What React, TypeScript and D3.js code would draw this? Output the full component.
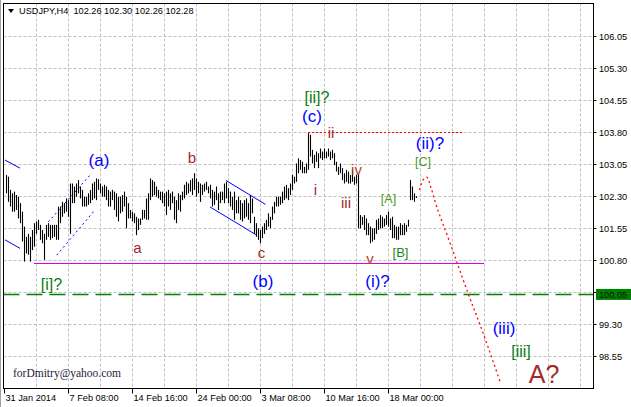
import React from 'react';
import * as d3 from 'd3';

// ---- data ----
const highs = [
  102.80, 102.76, 102.45, 102.37, 102.41, 102.33, 102.29, 102.14, 101.94, 101.59,
  101.35, 101.42, 101.35, 101.51, 101.67, 101.71, 101.75, 101.63, 101.51, 101.42,
  101.63, 101.67, 101.63, 101.63, 101.63, 101.63, 102.06, 102.06, 102.17, 102.14,
  102.25, 102.21, 102.60, 102.60, 102.53, 102.60, 102.68, 102.53, 102.45, 102.29,
  102.29, 102.37, 102.45, 102.60, 102.64, 102.72, 102.70, 102.60, 102.53, 102.57,
  102.53, 102.45, 102.41, 102.45, 102.41, 102.37, 102.29, 102.29, 102.33, 102.41,
  102.29, 102.14, 101.98, 101.94, 101.90, 101.82, 101.78, 101.78, 101.98, 101.98,
  102.25, 102.37, 102.72, 102.68, 102.64, 102.53, 102.45,
  102.41, 102.41, 102.37, 102.41, 102.45, 102.37, 102.41, 102.29, 102.21, 102.37,
  102.33, 102.41, 102.57, 102.64, 102.60, 102.68, 102.72, 102.84, 102.72, 102.64,
  102.60, 102.57, 102.60, 102.64, 102.53,
  102.57, 102.45, 102.41, 102.53, 102.37, 102.41, 102.41, 102.60, 102.64, 102.49,
  102.41, 102.29, 102.41, 102.21, 102.29, 102.21, 102.14, 102.21, 102.25, 102.14,
  102.33, 102.25, 101.82, 101.67, 101.55, 101.51, 101.59, 101.67, 101.75, 101.90,
  101.82, 102.06, 102.17, 102.29, 102.29, 102.29, 102.41, 102.53, 102.57, 102.49,
  102.60, 102.80, 102.76, 103.07, 103.19, 103.15, 103.11, 102.99, 103.07, 103.78,
  103.74, 103.39, 103.27, 103.35, 103.31, 103.42, 103.35, 103.42, 103.35, 103.42,
  103.35, 103.39, 103.31, 103.11, 102.99, 103.07, 102.96, 102.84, 102.92, 102.88,
  102.80, 102.92, 102.76, 102.80, 102.80, 101.86, 101.82, 101.86, 101.78, 101.67,
  101.59, 101.55, 101.55, 101.75, 101.78, 101.86, 101.82, 101.78, 101.86, 101.94,
  101.78, 101.82, 101.63, 101.59, 101.59, 101.67, 101.63, 101.67, 101.63, 101.75,
  102.68, 102.53, 102.37, 102.30,
];
const lows = [
  102.37, 102.17, 102.06, 101.94, 101.94, 101.98, 101.78, 101.67, 101.24, 100.77,
  100.96, 100.93, 100.77, 101.04, 101.12, 101.42, 101.51, 101.28, 101.20, 100.81,
  101.28, 101.35, 101.28, 101.32, 101.35, 101.28, 101.28, 101.67, 101.82, 101.90,
  101.94, 101.82, 101.42, 102.14, 102.14, 102.29, 102.37, 102.25, 102.06, 102.06,
  102.06, 102.10, 102.14, 102.21, 102.25, 102.21, 102.45, 102.37, 102.29, 102.29,
  102.21, 102.06, 102.06, 102.21, 101.98, 101.82, 101.71, 101.90, 101.94, 102.06,
  101.55, 101.78, 101.78, 101.71, 101.67, 101.39, 101.51, 101.63, 101.75, 101.78,
  101.75, 101.75, 102.21, 102.29, 102.33, 102.29, 102.25,
  102.21, 102.14, 102.06, 101.86, 102.06, 101.98, 102.14, 101.75, 101.67, 101.98,
  101.94, 102.21, 102.25, 102.33, 102.37, 102.41, 102.33, 102.45, 102.29, 102.37,
  102.17, 102.33, 102.41, 102.45, 102.37,
  102.25, 102.06, 102.10, 102.21, 101.98, 102.14, 102.21, 102.14, 102.25, 102.14,
  102.06, 101.98, 101.75, 101.90, 101.90, 101.75, 101.71, 101.78, 101.82, 101.75,
  101.67, 101.90, 101.42, 101.35, 101.28, 101.20, 101.32, 101.42, 101.51, 101.59,
  101.55, 101.75, 101.90, 102.06, 102.06, 102.10, 102.14, 102.21, 102.25, 102.21,
  102.33, 102.45, 102.60, 102.64, 102.84, 102.92, 102.84, 102.84, 102.84, 102.92,
  103.23, 103.07, 102.96, 103.11, 102.96, 103.19, 103.15, 103.19, 103.19, 103.23,
  103.15, 103.19, 103.03, 102.88, 102.80, 102.84, 102.68, 102.60, 102.64, 102.60,
  102.60, 102.64, 102.57, 102.60, 101.55, 101.55, 101.63, 101.51, 101.39, 101.39,
  101.20, 101.24, 101.28, 101.42, 101.51, 101.55, 101.55, 101.59, 101.63, 101.59,
  101.51, 101.32, 101.32, 101.28, 101.28, 101.39, 101.39, 101.39, 101.47, 101.59,
  102.21, 102.21, 102.17, 102.26,
];

const priceTicks = [106.05, 105.30, 104.55, 103.80, 103.05, 102.30, 101.55, 100.80, 100.05, 99.30, 98.55];
const dateLabels = ['31 Jan 2014', '7 Feb 08:00', '14 Feb 16:00', '24 Feb 00:00', '3 Mar 08:00', '10 Mar 16:00', '18 Mar 00:00'];
const dateLabelBars = [-1, 31, 63, 95, 127, 159, 191];
const headerText = 'USDJPY,H4  102.26 102.30 102.26 102.28';
const signature = 'forDmitry@yahoo.com';

const currentLevel = 100.0;
const currentLevelText = '100.05';
const supportLevel = 100.73;
const supportFrom = 14;
const supportTo = 239;
const resistanceLevel = 103.8;
const resistanceFrom = 151;
const resistanceTo = 228;

// trend / channel lines: [bar, price] pairs
const solidLines: [number, number][][] = [
  [[-0.5, 103.15], [7, 102.96]],
  [[-0.5, 101.28], [7, 101.08]],
  [[110, 102.67], [129.75, 102.11]],
  [[102, 102.05], [125.35, 101.39]],
];
const dottedLines: [number, number][][] = [
  [[21.15, 101.7], [42.85, 102.84]],
  [[25.35, 100.92], [44.5, 101.98]],
];
const projection: [number, number][] = [
  [206.7, 102.45], [208.5, 102.68], [210.3, 102.75], [212.5, 102.5], [215.3, 102.06],
  [222, 101.21], [231, 100.03], [238.5, 99.1], [247, 97.96],
];

const waveLabels = [
  { text: '(a)', bar: 46.5, price: 103.0, kind: 'blue' },
  { text: 'b', bar: 93, price: 103.08, kind: 'brown' },
  { text: 'a', bar: 65.75, price: 100.97, kind: 'brown' },
  { text: '[i]?', bar: 22.75, price: 100.1, kind: 'green' },
  { text: 'c', bar: 127.75, price: 100.85, kind: 'brown' },
  { text: '(b)', bar: 128.5, price: 100.17, kind: 'blue' },
  { text: '[ii]?', bar: 155.5, price: 104.49, kind: 'green' },
  { text: '(c)', bar: 153, price: 104.05, kind: 'blue' },
  { text: 'i', bar: 154.75, price: 102.33, kind: 'brown' },
  { text: 'ii', bar: 162.5, price: 103.67, kind: 'brown' },
  { text: 'iii', bar: 170, price: 102.03, kind: 'brown' },
  { text: 'iv', bar: 175.25, price: 102.8, kind: 'orange' },
  { text: 'v', bar: 182, price: 100.71, kind: 'orange' },
  { text: '(i)?', bar: 185.75, price: 100.17, kind: 'blue' },
  { text: '[A]', bar: 191.25, price: 102.14, kind: 'small' },
  { text: '[B]', bar: 197.25, price: 100.88, kind: 'smallDark' },
  { text: '[C]', bar: 208.5, price: 103.02, kind: 'small' },
  { text: '(ii)?', bar: 212, price: 103.42, kind: 'blue' },
  { text: '(iii)', bar: 249, price: 99.07, kind: 'blue' },
  { text: '[iii]', bar: 257.5, price: 98.53, kind: 'green' },
  { text: 'A?', bar: 269, price: 97.92, kind: 'big' },
];

const labelStyles: Record<string, { fill: string; size: number }> = {
  blue: { fill: '#0000ff', size: 17 },
  brown: { fill: '#a52a2a', size: 15 },
  orange: { fill: '#b8402a', size: 15 },
  green: { fill: '#0a7d0a', size: 16 },
  small: { fill: '#4c9a22', size: 12.5 },
  smallDark: { fill: '#1b8a1b', size: 13 },
  big: { fill: '#a52a2a', size: 25 },
};

const W = 631;
const H = 407;
const L = 3.5;
const R = 593.5;
const T = 3.5;
const B = 388.5;

export default function App() {
  const x = d3.scaleLinear().domain([-1, 0]).range([4, 6]);
  const y = d3.scaleLinear().domain([100.8, 103.8]).range([260.3, 132.3]);
  const font = "'Liberation Sans', Arial, sans-serif";

  const gridX: number[] = [];
  for (let b = 15; x(b) < R - 2; b += 16) gridX.push(x(b));

  const line = d3.line<[number, number]>().x((d) => x(d[0])).y((d) => y(d[1]));
  const projLine = d3
    .line<[number, number]>()
    .x((d) => x(d[0]))
    .y((d) => y(d[1]))
    .curve(d3.curveCatmullRom);

  const curY = y(currentLevel);

  return (
    <div style={{ position: 'absolute', left: 0, top: 0 }}>
      <svg width={W} height={H} style={{ display: 'block', background: '#fff' }}>
        <rect x={0} y={0} width={W} height={H} fill="#fff" />
        <line x1={0.5} x2={0.5} y1={0} y2={H} stroke="#a0a0a0" />
        {/* grid */}
        {gridX.map((gx, i) => (
          <line key={'gx' + i} x1={gx + 0.5} x2={gx + 0.5} y1={T} y2={B} stroke="#c0c0c0" strokeDasharray="3,2" />
        ))}
        {priceTicks.map((p, i) => (
          <line key={'gy' + i} x1={L} x2={R} y1={Math.round(y(p)) + 0.5} y2={Math.round(y(p)) + 0.5} stroke="#c0c0c0" strokeDasharray="3,2" />
        ))}

        {/* levels */}
        <line x1={L} x2={R} y1={curY} y2={curY} stroke="#008000" strokeWidth={1.6} strokeDasharray="16,7" />
        <line x1={x(supportFrom)} x2={x(supportTo)} y1={Math.round(y(supportLevel)) + 0.5} y2={Math.round(y(supportLevel)) + 0.5} stroke="#e000e0" strokeWidth={1} />
        <line x1={x(resistanceFrom)} x2={x(resistanceTo)} y1={Math.round(y(resistanceLevel)) + 0.5} y2={Math.round(y(resistanceLevel)) + 0.5} stroke="#ff0000" strokeWidth={1.2} strokeDasharray="2,2" />

        {/* channel lines */}
        {solidLines.map((pts, i) => (
          <path key={'sl' + i} d={line(pts) || ''} stroke="#0000ff" strokeWidth={1} fill="none" />
        ))}
        {dottedLines.map((pts, i) => (
          <path key={'dl' + i} d={line(pts) || ''} stroke="#0000ff" strokeWidth={1} strokeDasharray="2,3" fill="none" />
        ))}

        {/* bars */}
        {highs.map((h, i) => (
          <line key={'b' + i} x1={Math.round(x(i)) + 0.5} x2={Math.round(x(i)) + 0.5} y1={y(h)} y2={y(lows[i])} stroke="#000" strokeWidth={1.1} />
        ))}

        {/* projection */}
        <path d={projLine(projection) || ''} stroke="#ff0000" strokeWidth={1.3} strokeDasharray="2,3" fill="none" />

        {/* wave labels */}
        {waveLabels.map((w, i) => {
          const s = labelStyles[w.kind];
          return (
            <text key={'w' + i} x={x(w.bar)} y={y(w.price)} textAnchor="middle" fontFamily={font} fontSize={s.size} fill={s.fill}>
              {w.text}
            </text>
          );
        })}

        {/* frame */}
        <rect x={L} y={T} width={R - L} height={B - T} fill="none" stroke="#000" strokeWidth={1} />

        {/* right axis */}
        {priceTicks.map((p, i) => (
          <g key={'pt' + i}>
            <line x1={R} x2={R + 3} y1={Math.round(y(p)) + 0.5} y2={Math.round(y(p)) + 0.5} stroke="#000" />
            {Math.abs(p - 100.05) > 0.01 && (
              <text x={599} y={y(p) + 3.5} fontFamily={font} fontSize={9.2} fill="#000">
                {p.toFixed(2)}
              </text>
            )}
          </g>
        ))}
        <rect x={596} y={curY - 5.5} width={35} height={11} fill="#008000" />
        <text x={599} y={curY + 3.5} fontFamily={font} fontSize={9.2} fill="#101010">
          {currentLevelText}
        </text>

        {/* bottom axis */}
        {dateLabels.map((lab, i) => {
          const tx = Math.round(x(dateLabelBars[i]));
          return (
            <g key={'dt' + i}>
              <line x1={tx + 0.5} x2={tx + 0.5} y1={B} y2={B + 5} stroke="#000" />
              <text x={tx + 1.5} y={401} fontFamily={font} fontSize={9.2} fill="#000">
                {lab}
              </text>
            </g>
          );
        })}

        {/* header */}
        <path d="M8,9 L14,9 L11,13 Z" fill="#000" />
        <text x={19} y={14} fontFamily={font} fontSize={9.2} fill="#000" style={{ whiteSpace: 'pre' }}>
          {headerText}
        </text>

        {/* signature */}
        <text x={13} y={377} fontFamily="'Liberation Serif', 'Times New Roman', serif" fontSize={11.5} fill="#1c1c3c">
          {signature}
        </text>
      </svg>
    </div>
  );
}
